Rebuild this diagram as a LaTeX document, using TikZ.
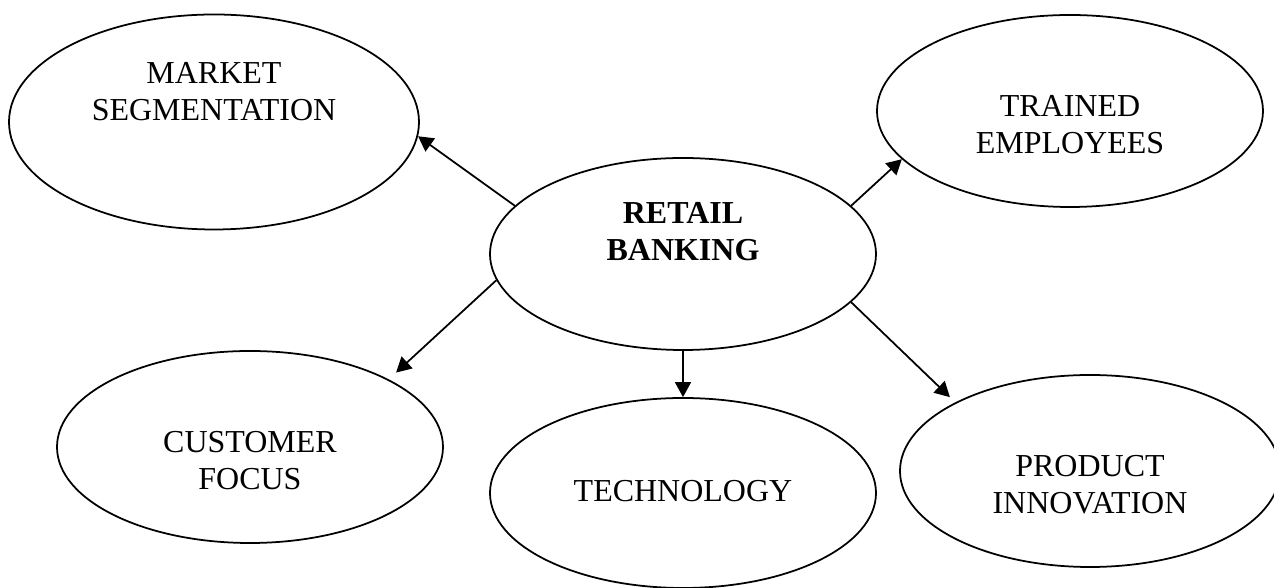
\documentclass[tikz,border=0pt]{standalone}
\usepackage{fontspec}
\setmainfont{Liberation Serif}
\usetikzlibrary{positioning,shapes.geometric,arrows.meta}

\begin{document}
\begin{tikzpicture}[on grid, line width=1pt, font=\fontsize{18.2}{21}\selectfont,
		main/.style={draw, ellipse, inner sep=0pt, minimum width=7.72cm, minimum height=3.84cm},
		txt/.style={align=center, yshift=#1},
		link/.style={-{Triangle[length=3mm,width=3.2mm]}}]
		\useasboundingbox (-13.66,5.08) rectangle (11.82,-6.68);
		
		\node[main, label={[txt=0.44cm]center:\textbf{RETAIL}\\\textbf{BANKING}}] (retail) {};
		\node[main, minimum width=8.2cm, minimum height=4.3cm, label={[txt=0.6cm]center:MARKET\\SEGMENTATION}] (market) [above left=2.64cm and 9.38cm of retail] {};
		\node[main, label={[txt=-0.28cm]center:TRAINED\\EMPLOYEES}] (trained) [above right=2.86cm and 7.74cm of retail] {};
		\node[main, label={[txt=-0.28cm]center:CUSTOMER\\FOCUS}] (customer) [below left=3.86cm and 8.66cm of retail] {};
		\node[main, minimum height=3.8cm, label={[txt=0.04cm]center:TECHNOLOGY}] (tech) [below=4.78cm of retail] {};
		\node[main, minimum width=7.6cm, label={[txt=-0.28cm]center:PRODUCT\\INNOVATION}] (product) [below right=4.34cm and 8.14cm of retail] {};
		
		\draw[link] (retail.164) -- (market.356);
		\draw[link] (retail.16) -- (trained.196);
		\draw[link, shorten >=0.2cm] (retail.188) -- (customer.26);
		\draw[link] (retail.south) -- (tech.north);
		\draw[link, shorten >=0.15cm] (retail.344) -- (product.153);
	\end{tikzpicture}
\end{document}
